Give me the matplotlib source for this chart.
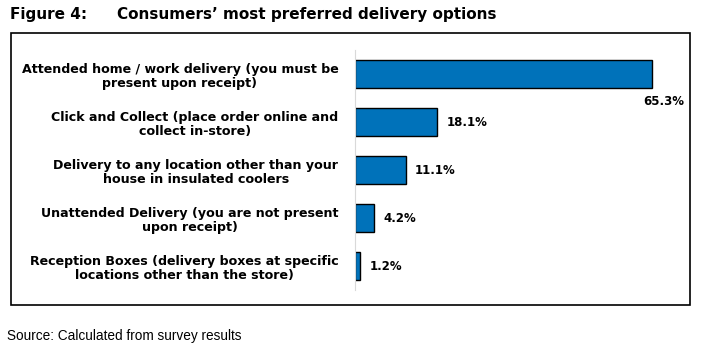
import matplotlib
matplotlib.use("Agg")
from matplotlib import pyplot as plt
from matplotlib.patches import Rectangle

plt.rcParams['font.family'] = ['Liberation Sans', 'DejaVu Sans']

# data
options = [
    "Attended home / work delivery (you must be\npresent upon receipt)",
    "Click and Collect (place order online and\ncollect in-store)",
    "Delivery to any location other than your\nhouse in insulated coolers",
    "Unattended Delivery (you are not present\nupon receipt)",
    "Reception Boxes (delivery boxes at specific\nlocations other than the store)",
]
shares = [65.3, 18.1, 11.1, 4.2, 1.2]

bold_font = 'DejaVu Sans'

fig = plt.figure(figsize=(7.01, 3.49), dpi=100)

# outer frame around the chart
fig.patches.append(Rectangle((11/701, 1 - 305/349), (690-11)/701, (305-33)/349,
                             transform=fig.transFigure, fill=False,
                             edgecolor='black', linewidth=1.2))

fig.text(10/701, 1 - 15/349, "Figure 4:", fontsize=11, fontweight='bold',
         family=bold_font, va='center')
fig.text(117/701, 1 - 15/349, "Consumers\u2019 most preferred delivery options",
         fontsize=11, fontweight='bold', family=bold_font, va='center')
fig.text(7/701, 1 - 336/349, "Source: Calculated from survey results", fontsize=9.8, va='center')

ax = fig.add_axes([355/701, 1 - 290/349, 335/701, 240/349])
ypos = list(range(len(options)))
ax.barh(ypos, shares, height=0.57, color='#0072BA', edgecolor='black', linewidth=1)
ax.set_ylim(len(options) - 0.5, -0.5)
ax.set_xlim(0, 335 / 4.55)

ax.set_yticks(ypos)
ax.set_yticklabels(options, fontsize=9.1, fontweight='bold', family=bold_font,
                   multialignment='center', linespacing=1.12)
ax.tick_params(axis='y', length=0, pad=12)
ax.set_xticks([])

for s in ['top', 'right', 'bottom']:
    ax.spines[s].set_visible(False)
ax.spines['left'].set_color('#d9d9d9')
ax.patch.set_alpha(0)

for i, v in enumerate(shares):
    if i == 0:
        ax.text(v + 7, i + 0.58, f"{v}%", fontsize=8.5, fontweight='bold', family=bold_font,
                ha='right', va='center')
    else:
        ax.text(v + 2, i, f"{v}%", fontsize=8.5, fontweight='bold', family=bold_font,
                ha='left', va='center')

fig.savefig("out.png", dpi=100)
